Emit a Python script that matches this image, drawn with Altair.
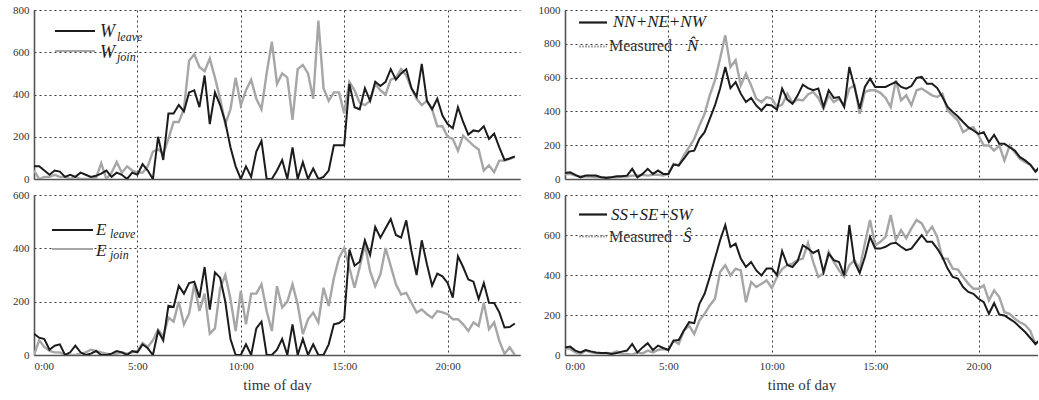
import altair as alt
import pandas as pd

# time of day in hours, one sample every 15 minutes (0:00 .. 23:15)
hours = [i / 4 for i in range(94)]

w_leave = [60, 60, 40, 20, 40, 35, 10, 20, 10, 30, 20, 10, 15, 25, 40, 10, 30, 20, 0, 30,
           20, 70, 40, 0, 200, 90, 310, 310, 350, 320, 410, 420, 340, 490, 260, 410,
           350, 270, 150, 60, 0, 60, 10, 130, 180, 0, 0, 40, 90, 0, 150, 0, 80, 0, 50, 0,
           10, 40, 160, 160, 160, 450, 340, 330, 430, 370, 460, 440, 460, 520, 470, 500,
           520, 430, 390, 545, 370, 330, 380, 300, 260, 240, 340, 270, 210, 230, 225, 250,
           190, 215, 150, 90, 97, 107]
w_join = [40, 0, 10, 10, 20, 10, 10, 0, 10, 0, 0, 0, 5, 75, 0, 30, 80, 30, 60, 40,
          30, 30, 60, 130, 140, 120, 190, 270, 270, 330, 560, 590, 530, 510, 570, 480,
          380, 260, 330, 480, 350, 420, 470, 380, 330, 500, 650, 450, 500, 480, 280, 520,
          540, 500, 380, 750, 430, 370, 410, 410, 310, 460, 420, 360, 350, 370, 450, 420,
          400, 470, 480, 520, 490, 430, 380, 350, 370, 330, 250, 250, 200, 190, 134, 205,
          181, 158, 140, 40, 65, 32, 87, 87, 95, 105]
e_leave = [80, 65, 60, 20, 35, 40, 0, 10, 35, 10, 0, 5, 15, 0, 0, 5, 15, 10, 0, 15,
           10, 40, 25, 0, 90, 55, 185, 180, 260, 230, 270, 275, 215, 330, 170, 310,
           290, 200, 60, 0, 0, 40, 0, 100, 125, 0, 0, 20, 60, 0, 115, 0, 60, 0, 40, 0,
           0, 40, 115, 120, 135, 395, 335, 350, 430, 375, 480, 440, 475, 510, 450, 440,
           505, 390, 300, 430, 340, 260, 305, 295, 270, 215, 370, 330, 283, 275, 210, 270,
           196, 195, 160, 103, 105, 118]
e_join = [0, 55, 30, 15, 10, 10, 0, 0, 0, 5, 10, 20, 15, 10, 5, 0, 5, 10, 5, 10,
          15, 45, 30, 55, 95, 70, 140, 125, 200, 115, 155, 265, 165, 230, 80, 100,
          250, 300, 210, 90, 240, 115, 230, 230, 265, 165, 90, 258, 178, 200, 265, 190,
          78, 134, 159, 122, 252, 184, 289, 364, 401, 327, 252, 330, 414, 314, 258, 302,
          401, 333, 265, 227, 233, 196, 159, 171, 153, 140, 165, 160, 153, 134, 134, 115,
          90, 122, 109, 196, 97, 122, 53, 4, 29, 0]
n_sum = [36, 40, 24, 10, 20, 20, 20, 10, 6, 10, 16, 16, 20, 60, 10, 30, 60, 30, 50, 30,
         30, 85, 80, 120, 162, 168, 238, 277, 356, 435, 535, 663, 538, 574, 505, 455,
         479, 435, 406, 440, 435, 410, 535, 470, 445, 495, 558, 538, 525, 535, 426, 525,
         480, 485, 426, 663, 545, 416, 545, 594, 545, 545, 545, 560, 574, 545, 535, 550,
         598, 604, 564, 564, 538, 485, 426, 396, 370, 337, 307, 287, 267, 277, 218, 261,
         208, 208, 188, 168, 129, 110, 85, 44, 80, 90]
n_meas = [30, 30, 20, 15, 15, 15, 10, 10, 10, 10, 10, 15, 15, 20, 20, 25, 20, 25, 25, 20,
          30, 90, 80, 140, 188, 238, 317, 386, 495, 584, 713, 850, 663, 703, 554, 624,
          554, 475, 455, 485, 475, 426, 440, 505, 450, 470, 465, 500, 515, 480, 416, 495,
          455, 475, 436, 535, 554, 386, 515, 525, 525, 510, 480, 426, 584, 465, 495, 436,
          525, 535, 515, 495, 485, 505, 406, 376, 346, 277, 297, 307, 257, 198, 198, 168,
          198, 109, 198, 158, 119, 99, 85, 45, 70, 80]
s_sum = [38, 42, 22, 13, 25, 18, 13, 10, 10, 5, 10, 17, 22, 55, 13, 38, 59, 25, 47, 35,
         25, 72, 75, 122, 164, 159, 256, 306, 390, 482, 574, 650, 540, 557, 482, 440,
         465, 423, 398, 432, 432, 400, 520, 450, 440, 470, 549, 532, 510, 524, 415, 507,
         474, 465, 398, 650, 465, 410, 490, 591, 532, 532, 541, 557, 561, 541, 524, 532,
         566, 599, 566, 566, 532, 490, 432, 390, 382, 340, 315, 306, 281, 264, 206, 259,
         202, 198, 181, 164, 139, 115, 85, 55, 80, 90]
s_meas = [35, 30, 13, 5, 22, 13, 10, 8, 10, 8, 18, 5, 5, 2, 13, 8, 22, 13, 25, 30,
          25, 72, 55, 122, 147, 105, 172, 206, 248, 281, 415, 449, 398, 432, 423, 264,
          365, 340, 356, 373, 335, 390, 430, 450, 457, 474, 482, 560, 465, 390, 407, 516,
          465, 424, 390, 449, 474, 432, 557, 675, 549, 566, 591, 700, 574, 624, 583, 633,
          675, 658, 608, 641, 591, 482, 482, 432, 427, 390, 357, 331, 331, 348, 273, 323,
          290, 214, 206, 181, 164, 150, 120, 55, 80, 90]

x_ticks = [0, 5, 10, 15, 20]

BLACK = "#1c1c1c"
GRAY = "#a6a6a6"
FONT = "Liberation Serif"
one = pd.DataFrame({"k": [0]})


def txt(x, y, s, size, italic=True, color=BLACK):
    kw = dict(align="left", baseline="alphabetic", font=FONT, fontSize=size, color=color)
    if italic:
        kw["fontStyle"] = "italic"
    return alt.Chart(one).mark_text(**kw).encode(
        x=alt.value(x), y=alt.value(y), text=alt.value(s))


def sample(x1, x2, y, color, dash=None):
    kw = dict(color=color, strokeWidth=2.2)
    if dash:
        kw["strokeDash"] = dash
    return alt.Chart(one).mark_rule(**kw).encode(
        x=alt.value(x1), x2=alt.value(x2), y=alt.value(y))


def panel(black, gray, ymax, width, height, xmax, show_x, legend):
    df = pd.DataFrame({"t": hours, "black": black, "gray": gray})
    axis_kw = dict(values=x_ticks, labelExpr="datum.value + ':00'", grid=True, labels=show_x)
    if show_x:
        axis_kw["title"] = "time of day"
    else:
        axis_kw["title"] = ""
    x = alt.X("t:Q", scale=alt.Scale(domain=[0, xmax], nice=False, zero=False),
              axis=alt.Axis(**axis_kw))
    yscale = alt.Scale(domain=[0, ymax], nice=False)
    yaxis = alt.Axis(values=list(range(0, ymax + 1, 200)), format="d", title="", grid=True)
    g = alt.Chart(df).mark_line(color=GRAY, strokeWidth=2.4, clip=True).encode(
        x=x, y=alt.Y("gray:Q", scale=yscale, axis=yaxis))
    b = alt.Chart(df).mark_line(color=BLACK, strokeWidth=2.0, clip=True).encode(
        x=x, y=alt.Y("black:Q", scale=yscale, axis=yaxis))
    return alt.layer(g, b, *legend).properties(width=width, height=height)


LW, RW = 486, 473
TH, BH = 169, 160

tl = panel(w_leave, w_join, 800, LW, TH, 23.5, False, [
    sample(21, 61, 21, BLACK), sample(21, 61, 41, GRAY),
    txt(66, 26.5, "W", 18), txt(83, 31, "leave", 12),
    txt(66, 47.5, "W", 18), txt(83, 51, "join", 12),
])
bl = panel(e_leave, e_join, 600, LW, BH, 23.5, True, [
    sample(18, 59, 35, BLACK), sample(18, 59, 54, GRAY),
    txt(62, 40, "E", 17), txt(76, 42.5, "leave", 12),
    txt(62, 61, "E", 17), txt(76, 63.5, "join", 12),
])
tr = panel(n_sum, n_meas, 1000, RW, TH, RW / 20.68, False, [
    sample(14, 42, 12.5, BLACK), sample(14, 42, 36.5, GRAY, [2, 1]),
    txt(48, 17, "NN+NE+NW", 17),
    txt(44, 41, "Measured", 16, italic=False, color="#333"),
    txt(122, 41, "N\u0302", 17),
])
br = panel(s_sum, s_meas, 800, RW, BH, RW / 20.68, True, [
    sample(14, 42, 19.5, BLACK), sample(14, 42, 41.5, GRAY, [2, 1]),
    txt(46, 25, "SS+SE+SW", 17),
    txt(44, 46.5, "Measured", 16, italic=False, color="#333"),
    txt(118, 46.5, "\u015c", 17),
])

chart = alt.vconcat(
    alt.hconcat(tl, tr, spacing=16),
    alt.hconcat(bl, br, spacing=16),
    spacing=5,
).properties(
    padding={"left": 5, "top": 4, "right": 0, "bottom": 0}
).configure_axis(
    labelFont=FONT, labelFontSize=11, labelColor="#333",
    titleFont=FONT, titleFontSize=15, titleFontWeight="normal", titleColor="#333",
    titlePadding=6,
    gridColor="#222", gridDash=[2, 3], gridWidth=0.9, gridOpacity=1,
    domainColor="#555", domainWidth=1.6, ticks=False, labelPadding=5,
).configure_axisY(
    minExtent=29, maxExtent=29,
).configure_view(stroke=None)

chart.save("out.html", embed_options={"renderer": "svg", "actions": False})
